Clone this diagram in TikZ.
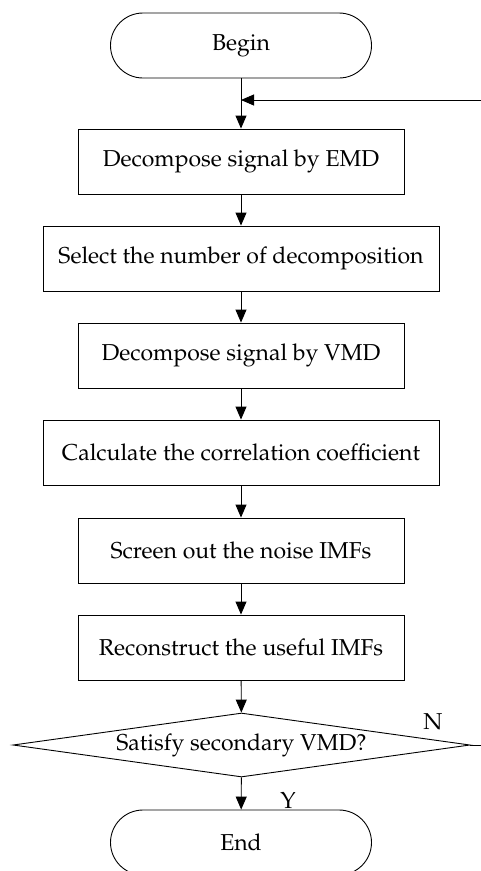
\documentclass[tikz,border=0pt]{standalone}
\usepackage[T1]{fontenc}
\usepackage{mathpazo}
\usetikzlibrary{shapes.geometric,arrows.meta}
\begin{document}
\begin{tikzpicture}[x=1pt,y=-1pt,
  every node/.style={font=\fontsize{23}{27}\selectfont},
  proc/.style={draw,line width=0.9pt,rectangle,inner sep=0pt,minimum height=65pt},
  narrow/.style={proc,minimum width=326pt},
  wide/.style={proc,minimum width=396pt},
  term/.style={draw,line width=0.9pt,rectangle,rounded corners=32.5pt,minimum width=261pt,minimum height=65pt,inner sep=0pt},
  dec/.style={draw,line width=0.9pt,diamond,aspect=7.14,inner sep=0pt,minimum width=457pt,minimum height=64pt},
  arr/.style={line width=0.9pt,-{Triangle[length=13pt,width=11pt]}},
  lab/.style={inner sep=0pt}
]
\useasboundingbox (0,0) rectangle (481,871);
\node[term] (begin) at (241,45.5) {Begin};
\node[narrow] (s1) at (241,161.5) {Decompose signal by EMD};
\node[wide] (s2) at (241,258.5) {Select the number of decomposition};
\node[narrow] (s3) at (241,355.5) {Decompose signal by VMD};
\node[wide] (s4) at (241,452.5) {Calculate the correlation coefficient};
\node[narrow] (s5) at (241,550.5) {Screen out the noise IMFs};
\node[narrow] (s6) at (241,647.5) {Reconstruct the useful IMFs};
\node[dec] (d) at (241.5,745) {Satisfy secondary VMD?};
\node[term] (end) at (241,842.5) {End};
\coordinate (fb) at (241,100);
\coordinate (loop) at (520,745);
\draw[arr] (begin) -- (s1);
\draw[arr] (s1) -- (s2);
\draw[arr] (s2) -- (s3);
\draw[arr] (s3) -- (s4);
\draw[arr] (s4) -- (s5);
\draw[arr] (s5) -- (s6);
\draw[arr] (s6) -- (d);
\draw[arr] (d) -- (end);
\draw[arr] (d.east) -- (loop) |- (fb);
\node[lab] (n) at (433,722) {N};
\node[lab] (y) at (288,801) {Y};
\end{tikzpicture}
\end{document}
